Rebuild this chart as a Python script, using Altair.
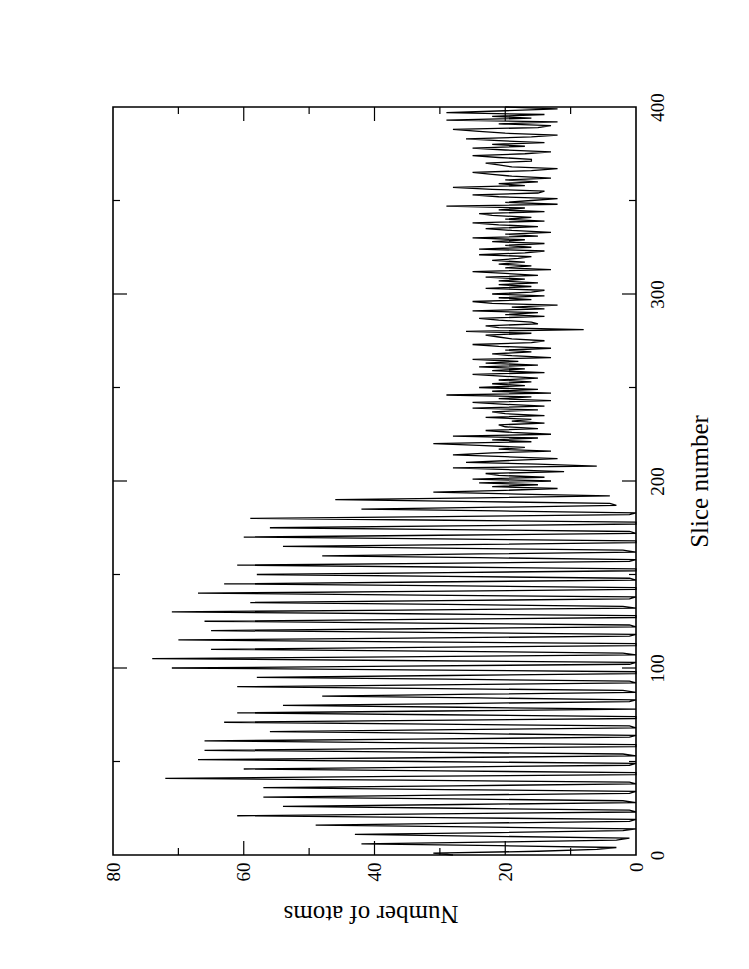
import altair as alt
import pandas as pd

# Number of atoms per slice (slice index = position in the list)
atoms_000_049 = [28, 31, 15, 6, 3, 21, 42, 20, 3, 1, 22, 43, 21, 2, 0, 25, 49, 25, 1, 0,
                 30, 61, 31, 0, 1, 27, 54, 27, 0, 2, 28, 57, 29, 1, 0, 29, 57, 28, 0, 1,
                 36, 72, 36, 0, 0, 30, 60, 30, 1, 0]
atoms_050_099 = [33, 67, 33, 0, 2, 33, 66, 33, 0, 0, 33, 66, 34, 1, 0, 28, 56, 28, 0, 1,
                 31, 63, 32, 0, 0, 30, 61, 30, 0, 27, 54, 27, 1, 0, 24, 48, 24, 0, 2, 30,
                 61, 31, 0, 1, 29, 58, 29, 0, 0, 35]
atoms_100_149 = [71, 36, 1, 0, 37, 74, 37, 0, 2, 32, 65, 33, 0, 0, 35, 70, 35, 1, 0, 32,
                 65, 33, 0, 1, 33, 66, 33, 0, 0, 35, 71, 36, 0, 2, 29, 59, 30, 1, 0, 33,
                 67, 33, 0, 0, 31, 63, 32, 0, 1, 29]
atoms_150_199 = [58, 29, 0, 0, 30, 61, 31, 1, 0, 24, 48, 24, 0, 2, 27, 54, 27, 0, 0, 30,
                 60, 30, 0, 1, 28, 56, 28, 0, 0, 29, 59, 30, 1, 0, 21, 42, 21, 3, 4, 24,
                 46, 24, 4, 18, 31, 20, 12, 22, 15, 24]
atoms_200_249 = [13, 25, 14, 21, 23, 11, 19, 28, 6, 15, 26, 19, 12, 20, 28, 22, 13, 21, 17, 24,
                 31, 16, 22, 15, 28, 13, 19, 23, 15, 20, 21, 14, 19, 16, 23, 14, 20, 22, 15, 25,
                 14, 20, 25, 13, 21, 16, 29, 13, 22, 15]
atoms_250_299 = [24, 17, 22, 16, 21, 15, 20, 25, 14, 22, 17, 24, 15, 23, 18, 25, 13, 19, 22, 16,
                 20, 13, 21, 25, 16, 14, 19, 21, 23, 16, 26, 8, 21, 23, 15, 16, 21, 24, 14, 20,
                 15, 25, 14, 19, 12, 22, 25, 16, 21, 14]
atoms_300_349 = [22, 16, 14, 23, 16, 21, 15, 21, 17, 23, 15, 20, 25, 13, 20, 16, 21, 17, 22, 18,
                 16, 24, 17, 14, 24, 16, 20, 14, 22, 17, 25, 15, 20, 13, 19, 23, 15, 21, 25, 14,
                 20, 16, 22, 24, 14, 21, 17, 29, 12, 20]
atoms_350_400 = [16, 12, 21, 25, 15, 14, 22, 28, 17, 21, 15, 20, 13, 19, 22, 25, 16, 12, 19, 21,
                 23, 16, 16, 21, 25, 17, 13, 20, 25, 17, 22, 14, 21, 26, 16, 12, 20, 24, 28, 15,
                 13, 21, 12, 29, 16, 22, 14, 29, 20, 12, 20]

atoms = (atoms_000_049 + atoms_050_099 + atoms_100_149 + atoms_150_199 +
         atoms_200_249 + atoms_250_299 + atoms_300_349 + atoms_350_400)
slices = list(range(len(atoms)))
df = pd.DataFrame({"slice": slices, "atoms": atoms})

atom_labels = [0, 20, 40, 60, 80]
slice_labels = [0, 100, 200, 300, 400]
atom_major = [20, 40, 60]
atom_minor = [10, 30, 50, 70]
slice_major = [100, 200, 300]
slice_minor = [50, 150, 250, 350]

W, H = 523, 748
MAJOR, MINOR = 14, 7
FONT = "Liberation Serif"

xscale = alt.Scale(domain=[0, 80], reverse=True, nice=False, zero=False)
yscale = alt.Scale(domain=[0, 400], nice=False, zero=False)

line = alt.Chart(df).mark_line(color="black", strokeWidth=1.3).encode(
    x=alt.X("atoms:Q", scale=xscale,
            axis=alt.Axis(orient="bottom", values=atom_labels, ticks=False, domain=False,
                          grid=False, labelAngle=270, labelAlign="right",
                          labelBaseline="middle", labelPadding=7, labelFontSize=19,
                          labelFlush=False, labelOverlap=False,
                          title="Number of atoms", titleFontSize=25, titleAngle=180,
                          titleX=W / 2 - 4, titleY=58, titleAlign="center",
                          titleBaseline="middle")),
    y=alt.Y("slice:Q", scale=yscale,
            axis=alt.Axis(orient="right", values=slice_labels, ticks=False, domain=False,
                          grid=False, labelAngle=270, labelAlign="center",
                          labelBaseline="top", labelPadding=12, labelFontSize=19,
                          labelFlush=False, labelOverlap=False,
                          title="Slice number", titleFontSize=25, titleAngle=270,
                          titleX=63, titleY=H / 2, titleAlign="center",
                          titleBaseline="middle")),
    order="slice:Q",
)


def atom_ticks(values, length, top):
    d = pd.DataFrame({"atoms": values})
    if top:
        yy = dict(y=alt.value(0), y2=alt.value(length))
    else:
        yy = dict(y=alt.value(H), y2=alt.value(H - length))
    return alt.Chart(d).mark_rule(color="black", strokeWidth=1.2).encode(
        x=alt.X("atoms:Q", scale=xscale), **yy)


def slice_ticks(values, length, left):
    d = pd.DataFrame({"slice": values})
    if left:
        xx = dict(x=alt.value(0), x2=alt.value(length))
    else:
        xx = dict(x=alt.value(W), x2=alt.value(W - length))
    return alt.Chart(d).mark_rule(color="black", strokeWidth=1.2).encode(
        y=alt.Y("slice:Q", scale=yscale), **xx)


ticks = [
    atom_ticks(atom_major, MAJOR, False), atom_ticks(atom_minor, MINOR, False),
    atom_ticks(atom_major, MAJOR, True), atom_ticks(atom_minor, MINOR, True),
    slice_ticks(slice_major, MAJOR, False), slice_ticks(slice_minor, MINOR, False),
    slice_ticks(slice_major, MAJOR, True), slice_ticks(slice_minor, MINOR, True),
]

chart = alt.layer(line, *ticks).properties(
    width=W, height=H,
    padding={"left": 96, "top": 84, "right": 10, "bottom": 10},
    background="white",
).configure_view(
    stroke="black", strokeWidth=1.6
).configure_axis(
    labelFont=FONT, titleFont=FONT, labelColor="black", titleColor="black",
    titleFontWeight="normal"
)

chart.save("out.html", embed_options={"renderer": "svg", "actions": False})
